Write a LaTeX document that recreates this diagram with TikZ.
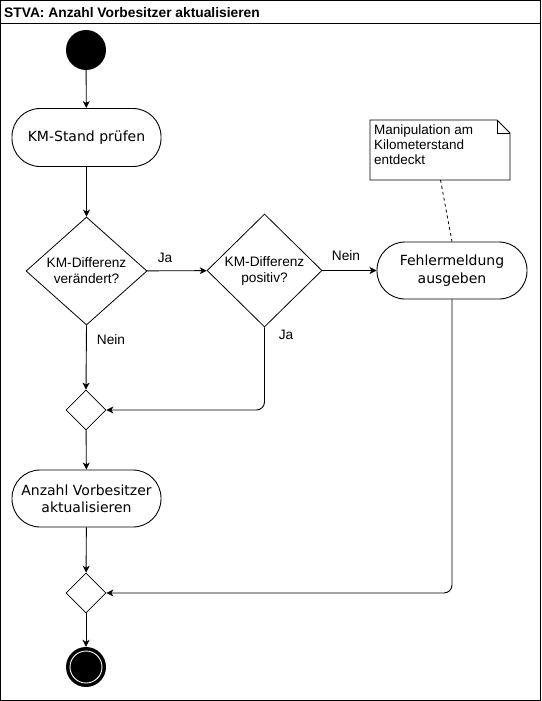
\documentclass[tikz,border=0pt]{standalone}
\usepackage{fontspec}
\setmainfont{Liberation Sans}
\newfontfamily\dejavu{DejaVu Sans}
\usetikzlibrary{shapes.geometric,arrows.meta}
\tikzset{
  stadium/.style={draw, line width=0.9pt, rectangle, rounded corners=28pt, inner sep=0pt,
    font=\dejavu\fontsize{14}{17.5}\selectfont, align=center},
  dia/.style={draw, line width=0.8pt, diamond, inner sep=0pt},
  flow/.style={line width=0.9pt, -{Stealth[length=7pt,width=7pt,inset=2pt]}},
  lbl/.style={font=\fontsize{13.7}{16}\selectfont, inner sep=0pt},
  diatext/.style={font=\fontsize{13.7}{16}\selectfont, align=center}
}
\begin{document}
\begin{tikzpicture}[x=1pt,y=-1pt]
\useasboundingbox (0,0) rectangle (541,701);
% frame
\draw[line width=0.9pt] (0.5,0.5) rectangle (540,700.5);
\draw[line width=0.9pt] (0.5,23) -- (540,23);
\node[anchor=base west, inner sep=0pt, font=\bfseries\fontsize{13.8}{16}\selectfont] (title) at (4,18) {STVA: Anzahl Vorbesitzer aktualisieren};

% nodes
\node[circle, fill=black, minimum size=40pt, inner sep=0pt] (start) at (86,50) {};
\node[stadium, minimum width=149pt, minimum height=58pt] (check) at (86.5,137.5) {KM-Stand prüfen};
\node[dia, minimum width=121pt, minimum height=108pt,
      label={[diatext]center:KM-Differenz\\verändert?}] (d1) at (86.5,271) {};
\node[dia, minimum width=115pt, minimum height=113pt,
      label={[diatext]center:KM-Differenz\\positiv?}] (d2) at (264.5,270.5) {};
\node[stadium, minimum width=150pt, minimum height=57pt] (err) at (452,270.5) {Fehlermeldung\\ausgeben};
\node[dia, minimum width=40pt, minimum height=40pt] (m1) at (86,410) {};
\node[stadium, minimum width=149pt, minimum height=57pt,
      font=\dejavu\fontsize{14}{17}\selectfont] (act) at (86.5,498.5) {Anzahl Vorbesitzer\\aktualisieren};
\node[dia, minimum width=40pt, minimum height=40pt] (m2) at (86,593) {};
\node[circle, fill=black, minimum size=40pt, inner sep=0pt] (end) at (86,667) {};
\draw[white, line width=0.9pt] (end.center) circle (16pt);

% note
\draw[line width=0.8pt, fill=white] (370,120) -- (497,120) -- (510,133) -- (510,180) -- (370,180) -- cycle;
\draw[line width=0.8pt] (497,120) -- (497,133) -- (510,133);
\node[anchor=north west, align=left, inner sep=0pt, font=\fontsize{13.5}{15}\selectfont] (note) at (374,125)
  {Manipulation am\\Kilometerstand\\entdeckt};
\coordinate (noteB) at (440.5,180);
\draw[line width=0.8pt, dash pattern=on 3pt off 3pt] (noteB) -- (err.north);

% connectors
\draw[flow] (start) -- (check);
\draw[flow] (check) -- (d1);
\draw[flow] (d1) -- (d2);
\draw[flow] (d2.east) -- (err.west);
\draw[flow] (d1.south) -- (m1.north);
\draw[flow, rounded corners=8pt] (d2.south) |- (m1.east);
\draw[flow] (m1) -- (act);
\draw[flow] (act) -- (m2);
\draw[flow, rounded corners=8pt] (err.south) |- (m2.east);
\draw[flow] (m2.south) -- (end.north);

% labels
\node[lbl] (ja1) at (165,258) {Ja};
\node[lbl] (nein1) at (111,340) {Nein};
\node[lbl] (nein2) at (346,256) {Nein};
\node[lbl] (ja2) at (286,335) {Ja};
\end{tikzpicture}
\end{document}
